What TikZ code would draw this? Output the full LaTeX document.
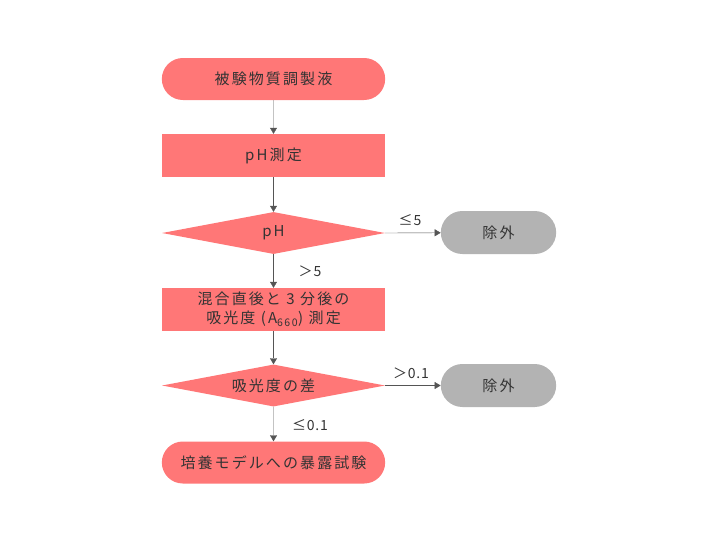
\documentclass[tikz,border=0pt]{standalone}
\usepackage{fontspec}
\setmainfont{Noto Sans CJK JP}[LetterSpace=14]
\usetikzlibrary{shapes.geometric,shapes.misc,arrows.meta}
\definecolor{boxred}{HTML}{FF7777}
\definecolor{boxgray}{HTML}{B3B3B3}
\definecolor{linegray}{HTML}{555555}
\definecolor{txt}{HTML}{333333}
\tikzset{
  every node/.style={text=txt, font=\fontsize{15}{18}\selectfont},
  termbox/.style={rounded rectangle, fill=boxred, minimum width=230pt, minimum height=42pt},
  procbox/.style={rectangle, fill=boxred, minimum width=223pt, minimum height=43pt, align=center, inner sep=0pt},
  decbox/.style={diamond, fill=boxred, aspect=5.3, minimum width=223pt, minimum height=42pt, inner sep=0pt},
  outbox/.style={rounded rectangle, fill=boxgray, minimum width=122pt, minimum height=43pt},
  flow/.style={draw=linegray, -{Triangle[length=6pt,width=7pt]}},
  edgelbl/.style={font=\fontsize{14}{16}\selectfont\addfontfeatures{LetterSpace=6}}
}
\begin{document}
\begin{tikzpicture}[x=1pt,y=-1pt]
  \useasboundingbox (0,0) rectangle (719,541);
  % main column
  \node[termbox] (prep) at (273.5,79) {被験物質調製液};
  \node[procbox] (phmeas) at (273.5,155.5) {pH測定};
  \node[decbox] (phchk) at (273.5,233) {pH};
  \node[procbox] (absmeas) at (273.5,309.5) {混合直後と 3 分後の\\[1pt]吸光度 (A\textsubscript{660}) 測定};
  \node[decbox] (abschk) at (273.5,385.5) {吸光度の差};
  \node[termbox] (expo) at (273.5,462.5) {培養モデルへの暴露試験};
  % excluded
  \node[outbox] (excl1) at (498.5,232.5) {除外};
  \node[outbox] (excl2) at (498.5,385.5) {除外};
  % connectors
  \draw[flow] (prep) -- (phmeas);
  \draw[flow] (phmeas) -- (phchk);
  \draw[flow] (phchk) -- (absmeas);
  \draw[flow] (absmeas) -- (abschk);
  \draw[flow] (abschk) -- (expo);
  \draw[flow] (phchk.east) -- (excl1);
  \draw[flow] (abschk.east) -- (excl2);
  % labels
  \node[edgelbl] (lblA) at (410,220) {≤5};
  \node[edgelbl] (lblB) at (310,271) {＞5};
  \node[edgelbl] (lblC) at (411,373) {＞0.1};
  \node[edgelbl] (lblD) at (310,425) {≤0.1};
\end{tikzpicture}
\end{document}
